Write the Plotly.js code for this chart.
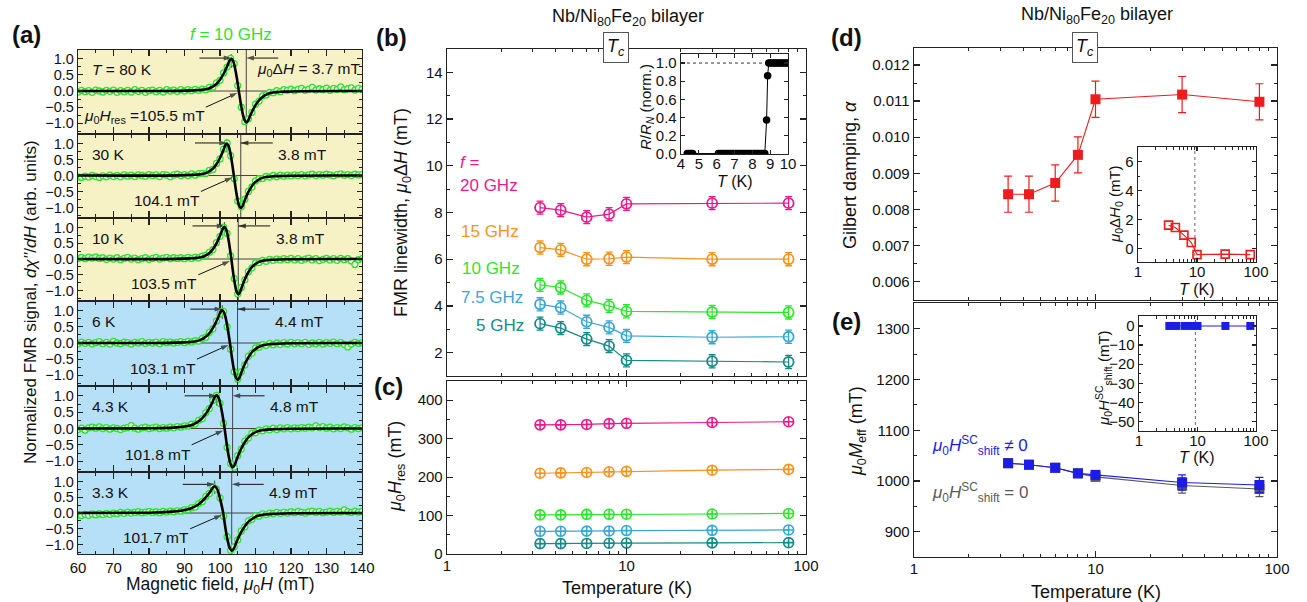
<!DOCTYPE html>
<html>
<head>
<meta charset="utf-8">
<script src="https://cdn.plot.ly/plotly-3.0.1.min.js"></script>
<style>
html,body{margin:0;padding:0;background:#ffffff;}
#chart{width:1307px;height:602px;}
</style>
</head>
<body>
<div id="chart"></div>
<script>
// ================= DATA =================
// (a) normalized FMR spectra, f = 10 GHz
const FIELD = [60,61,62,63,64,65,66,67,68,69,70,71,72,73,74,75,76,77,78,79,80,81,82,83,84,85,86,87,88,89,90,91,92,93,94,95,96,97,98,99,100,101,102,103,104,105,106,107,108,109,110,111,112,113,114,115,116,117,118,119,120,121,122,123,124,125,126,127,128,129,130,131,132,133,134,135,136,137,138,139,140];
const DATA_80K = [-0.03,0.02,-0.02,0.01,-0.04,0.03,0.00,-0.03,0.02,-0.01,0.03,-0.04,0.01,-0.02,0.02,-0.03,0.04,-0.01,0.02,-0.04,0.01,0.03,-0.02,0.02,-0.03,0.04,0.00,0.03,-0.01,0.04,0.00,0.04,0.01,0.05,0.02,0.06,0.04,0.11,0.12,0.25,0.33,0.56,0.74,1.01,0.85,0.17,-0.50,-0.95,-0.86,-0.66,-0.41,-0.31,-0.15,-0.12,-0.04,-0.05,0.01,-0.02,0.04,0.02,0.06,0.01,0.05,0.08,0.02,0.06,0.11,0.03,0.07,0.04,0.09,0.02,0.08,0.05,0.13,0.04,0.07,0.10,0.03,0.08,0.05];
const DATA_30K = [-0.04,-0.06,-0.02,-0.05,0.00,-0.03,-0.06,-0.01,-0.04,0.01,-0.03,0.00,-0.04,0.02,-0.02,0.01,-0.03,0.02,0.00,-0.02,0.03,0.00,0.02,-0.03,0.03,0.01,-0.04,0.02,0.04,0.00,0.03,0.00,0.05,0.01,0.06,0.07,0.06,0.16,0.19,0.38,0.52,0.83,1.02,0.62,-0.10,-0.80,-0.98,-0.74,-0.50,-0.36,-0.17,-0.10,-0.09,-0.03,-0.05,0.00,-0.04,0.01,-0.02,0.01,-0.01,0.02,0.00,0.03,-0.01,0.02,0.04,0.00,0.03,0.01,0.04,0.02,-0.01,0.03,0.05,0.01,0.03,0.00,0.04,0.02,0.03];
const DATA_10K = [0.02,0.05,0.01,0.06,0.03,0.07,0.02,0.04,-0.01,0.03,0.00,0.04,-0.02,0.02,0.05,0.00,0.03,-0.02,0.01,0.04,-0.01,0.02,0.05,0.00,0.03,0.05,0.01,0.04,0.02,0.04,0.01,0.05,0.02,0.06,0.04,0.09,0.12,0.21,0.30,0.52,0.72,1.01,0.81,0.10,-0.62,-1.11,-0.90,-0.66,-0.40,-0.28,-0.12,-0.11,-0.04,-0.07,-0.01,-0.04,0.00,-0.03,0.01,-0.02,0.02,-0.03,0.01,-0.04,0.00,0.03,-0.03,0.01,-0.05,-0.01,0.02,-0.03,0.01,-0.04,0.02,-0.02,0.01,-0.06,-0.17,-0.02,0.01];
const DATA_6K = [-0.02,0.03,-0.01,0.02,-0.03,0.01,0.04,-0.02,0.02,-0.03,0.05,0.00,-0.02,0.03,0.01,-0.03,0.02,0.00,0.04,-0.01,0.02,0.00,0.03,-0.02,0.04,0.01,0.03,0.00,0.02,0.04,0.01,0.05,0.03,0.07,0.06,0.14,0.18,0.33,0.44,0.68,0.90,0.98,0.50,-0.19,-0.89,-1.12,-0.89,-0.68,-0.41,-0.31,-0.15,-0.13,-0.05,-0.07,-0.01,-0.05,0.00,-0.04,0.01,-0.03,0.02,-0.02,0.01,-0.02,0.02,-0.04,0.00,-0.02,0.02,-0.03,0.01,-0.01,0.03,-0.02,0.01,-0.04,-0.12,-0.03,0.02,-0.01,0.01];
const DATA_4K3 = [-0.03,0.01,-0.05,0.02,0.04,0.01,0.05,0.00,0.03,-0.02,0.02,0.00,-0.03,0.01,0.03,0.09,0.01,-0.02,0.02,0.04,0.00,0.02,0.04,0.00,0.03,0.01,0.04,0.02,0.06,0.04,0.08,0.07,0.13,0.14,0.25,0.30,0.48,0.61,0.86,1.01,0.77,0.16,-0.58,-1.07,-1.18,-0.83,-0.63,-0.39,-0.29,-0.14,-0.13,-0.05,-0.07,-0.01,-0.04,0.01,-0.03,0.02,-0.01,0.03,-0.01,0.02,0.00,0.03,0.01,0.04,0.02,0.08,0.03,0.06,0.01,0.04,-0.01,0.03,0.00,0.05,0.02,-0.02,0.03,0.00,0.02];
const DATA_3K3 = [-0.06,-0.08,-0.04,-0.07,-0.03,-0.06,-0.02,-0.05,-0.01,-0.04,0.00,-0.02,0.02,-0.01,0.03,0.00,0.02,0.04,0.01,0.03,0.05,0.02,0.04,0.01,0.05,0.03,0.06,0.04,0.07,0.06,0.10,0.11,0.17,0.19,0.30,0.36,0.52,0.62,0.83,0.76,0.48,-0.10,-0.75,-1.18,-1.07,-0.85,-0.57,-0.44,-0.25,-0.20,-0.09,-0.10,-0.03,-0.05,0.00,-0.02,0.02,-0.01,0.03,0.00,0.04,0.01,0.05,0.02,0.00,0.04,0.06,0.02,0.05,0.01,0.03,0.06,0.02,0.05,0.03,0.10,0.04,0.02,0.06,0.03,0.05];

// fitted curves (black lines), sampled along each curve
const FIT_80K_H = [60,88.5,92.7,94.8,96.9,99.0,100.05,101.1,102.15,102.68,103.2,103.73,104.25,104.78,105.3,105.83,106.35,106.88,107.4,107.93,108.45,109.5,110.55,111.6,113.7,115.8,117.9,122.1,140];
const FIT_80K_Y = [0,0.005,0.02,0.035,0.08,0.22,0.36,0.55,0.80,0.94,1.0,0.92,0.70,0.38,0,-0.369,-0.679,-0.892,-0.97,-0.912,-0.776,-0.534,-0.349,-0.213,-0.078,-0.034,-0.019,-0.005,0];
const FIT_30K_H = [60,88.3,92.2,94.15,96.1,98.05,99.03,100.0,100.98,101.46,101.95,102.44,102.93,103.41,103.9,104.39,104.88,105.36,105.85,106.34,106.83,107.8,108.78,109.75,111.7,113.65,115.6,119.5,140];
const FIT_30K_Y = [0,0.005,0.02,0.035,0.08,0.22,0.36,0.55,0.80,0.94,1.0,0.92,0.70,0.38,0,-0.388,-0.714,-0.938,-1.02,-0.959,-0.816,-0.561,-0.367,-0.224,-0.082,-0.036,-0.02,-0.005,0];
const FIT_10K_H = [60,87.6,91.5,93.45,95.4,97.35,98.33,99.3,100.28,100.76,101.25,101.74,102.23,102.71,103.2,103.69,104.18,104.66,105.15,105.64,106.13,107.1,108.08,109.05,111.0,112.95,114.9,118.8,140];
const FIT_10K_Y = [0,0.005,0.02,0.036,0.082,0.224,0.367,0.561,0.816,0.959,1.02,0.938,0.714,0.388,0,-0.426,-0.784,-1.03,-1.12,-1.053,-0.896,-0.616,-0.403,-0.246,-0.09,-0.039,-0.022,-0.006,0];
const FIT_6K_H = [60,85.6,89.9,92.05,94.2,96.35,97.43,98.5,99.58,100.11,100.65,101.19,101.73,102.26,102.8,103.34,103.88,104.41,104.95,105.49,106.03,107.1,108.18,109.25,111.4,113.55,115.7,120.0,140];
const FIT_6K_Y = [0,0.005,0.02,0.036,0.082,0.224,0.367,0.561,0.816,0.959,1.02,0.938,0.714,0.388,0,-0.433,-0.798,-1.049,-1.14,-1.072,-0.912,-0.627,-0.41,-0.251,-0.091,-0.04,-0.023,-0.006,0];
const FIT_4K3_H = [60,78.8,83.3,87.8,90.05,92.3,94.55,95.68,96.8,97.93,98.49,99.05,99.61,100.18,100.74,101.3,101.86,102.43,102.99,103.55,104.11,104.68,105.8,106.93,108.05,110.3,112.55,114.8,119.3,140];
const FIT_4K3_Y = [0,0.005,0.012,0.036,0.061,0.117,0.265,0.403,0.587,0.816,0.959,1.02,0.938,0.714,0.388,0,-0.452,-0.833,-1.095,-1.19,-1.119,-0.952,-0.655,-0.428,-0.262,-0.095,-0.042,-0.024,-0.006,0];
const FIT_3K3_H = [60,76.9,81.7,86.5,88.9,91.3,93.7,94.9,96.1,97.3,97.9,98.5,99.1,99.7,100.3,100.9,101.5,102.1,102.7,103.3,103.9,104.5,105.7,106.9,108.1,110.5,112.9,115.3,120.1,140];
const FIT_3K3_Y = [0,0.0085,0.017,0.043,0.072,0.128,0.255,0.366,0.51,0.68,0.80,0.85,0.782,0.595,0.323,0,-0.456,-0.84,-1.104,-1.2,-1.128,-0.96,-0.66,-0.432,-0.264,-0.096,-0.042,-0.024,-0.006,0];

const SPEC_LABELS = ['<i>T</i> = 80 K','30 K','10 K','6 K','4.3 K','3.3 K'];
const HRES_MT = ['105.5','104.1','103.5','103.1','101.8','101.7'];
const DH_MT = ['3.7','3.8','3.8','4.4','4.8','4.9'];
const ZERO_H = [105.3,103.9,103.2,102.8,101.3,100.9];
const PEAK_H = [103.2,101.95,101.25,100.65,99.05,98.5];
const TROUGH_H = [107.4,105.85,105.15,104.95,103.55,103.3];

// (b) linewidth vs temperature, (c) resonance field
const TEMPS = [3.3,4.3,6,8,10,30,80];
const FREQ_LABELS = ['20 GHz','15 GHz','10 GHz','7.5 GHz','5 GHz'];
const LW_20 = [8.21,8.10,7.80,7.93,8.37,8.40,8.40];
const LW_15 = [6.50,6.40,6.00,6.02,6.09,6.00,6.00];
const LW_10 = [4.90,4.79,4.24,4.00,3.77,3.74,3.72];
const LW_75 = [4.07,3.93,3.32,3.08,2.72,2.66,2.68];
const LW_5  = [3.24,3.05,2.58,2.28,1.67,1.63,1.60];
const LW_ERR = [0.28,0.28,0.28,0.28,0.28,0.28,0.28];
const HRES_20 = [336,336,337,339,340,342,344];
const HRES_15 = [210,211,212,214,215,218,220];
const HRES_10 = [101.7,101.8,103.1,103.3,103.5,104.1,105.5];
const HRES_75 = [59,59,59.5,60,61,61.5,62.5];
const HRES_5  = [27,27,27.5,28,28.5,29,29.5];
// (b) inset: R/RN vs T
const RT_T = [4.35,4.45,4.55,4.65,6.1,6.2,6.3,6.4,6.5,6.6,6.7,6.8,6.9,7.0,7.1,7.2,7.3,7.4,7.5,7.6,7.7,7.8,7.9,8.0,8.1,8.2,8.3,8.4,8.5,8.6,8.7,8.8,8.86,8.92,9.0,9.1,9.2,9.3,9.4,9.5,9.6,9.7,9.8,9.9,10.0];
const RT_R = [0,0,0,0,0,0,0,0,0,0,0,0,0,0,0,0,0,0,0,0,0,0,0,0,0,0,0,0,0,0,0,0.37,0.86,1.0,1.0,1.0,1.0,1.0,1.0,1.0,1.0,1.0,1.0,1.0,1.0];
// (d) Gilbert damping, inset inhomogeneous broadening
const ALPHA = [0.00842,0.00842,0.00873,0.00951,0.01105,0.01118,0.01098];
const ALPHA_ERR = [0.0005,0.0005,0.0005,0.0005,0.0005,0.0005,0.0005];
const DH0 = [1.61,1.45,0.92,0.41,-0.42,-0.39,-0.42];
// (e) effective magnetization, inset shift field
const MEFF_SC = [1035,1032,1026,1015,1012,997,992];
const MEFF_0  = [1035,1032,1026,1015,1008,991,984];
const MEFF_ERR = [3,3,3,3,5,15,15];
const HSHIFT = [0,0,0,0,0,0,0];
const TC_MAIN = 8.8;
const TC_INSET = 9.2;

// ================= BUILD =================
const W = 1307, H = 602;
const FONT = 'Liberation Sans, Arial, Helvetica, sans-serif';
const X = p => p / W, Y = p => 1 - p / H;
const INK = '#222';
const C20 = '#ea1a8b', C15 = '#f7921e', C10 = '#2ee52e', C75 = '#3ba6d6', C5 = '#178a8a';
const GREEN = '#2fe22f';
const RED = '#ee1c1c', BLUE = '#1c1ce6', GREY = '#5a5a5a';
const LOG_MINOR = [2,3,4,5,6,7,8,9,20,30,40,50,60,70,80,90];

const traces = [], shapes = [], ann = [];
const layout = {
  width: W, height: H, margin: {l:0, r:0, t:0, b:0},
  paper_bgcolor: '#ffffff', plot_bgcolor: '#ffffff', showlegend: false,
  font: {family: FONT, size: 15, color: '#111'}
};

function axis(o) {
  return Object.assign({
    showline: true, linecolor: INK, linewidth: 1.3, mirror: 'allticks',
    ticks: 'inside', ticklen: 6, tickwidth: 1.2, tickcolor: INK,
    showgrid: false, zeroline: false, fixedrange: true,
    tickfont: {family: FONT, size: 15, color: '#111'}
  }, o);
}
function logAxis(o) {
  return axis(Object.assign({
    type: 'log', range: [0, 2], tickmode: 'array', tickvals: [1, 10, 100], ticktext: ['1', '10', '100'],
    minor: {tickmode: 'array', tickvals: LOG_MINOR, ticks: 'inside', ticklen: 3, tickwidth: 1, tickcolor: INK}
  }, o));
}
function txt(x, y, text, o) {
  o = o || {};
  const font = Object.assign({family: FONT, size: 17, color: '#111'}, o.font || {});
  const a = Object.assign({xref: 'paper', yref: 'paper', x: X(x), y: Y(y), text: text, showarrow: false,
    xanchor: 'center', yanchor: 'middle'}, o);
  a.font = font;
  return a;
}
// arrow drawn as a line with an arrow-shaped end marker
function arrowTrace(xa, ya, x0, y0, x1, y1) {
  return {x: [x0, x1], y: [y0, y1], xaxis: xa, yaxis: ya, mode: 'lines+markers', hoverinfo: 'skip',
    cliponaxis: false, line: {color: '#111', width: 1},
    marker: {symbol: 'arrow', size: [0, 8], angleref: 'previous', color: '#111', line: {width: 0}}};
}

// ---------- panel (a) ----------
const SPEC_DATA = [DATA_80K, DATA_30K, DATA_10K, DATA_6K, DATA_4K3, DATA_3K3];
const FIT_H = [FIT_80K_H, FIT_30K_H, FIT_10K_H, FIT_6K_H, FIT_4K3_H, FIT_3K3_H];
const FIT_Y = [FIT_80K_Y, FIT_30K_Y, FIT_10K_Y, FIT_6K_Y, FIT_4K3_Y, FIT_3K3_Y];
const PA = [[50,133],[135,217],[219,300],[302,385],[387,471],[473,554]];
const ARROW_Y = [1.02, 1.02, 1.05, 1.05, 1.0, 0.91];
const YEL = '#f7f1c6', BLU = '#b6e0f8';

for (let i = 0; i < 6; i++) {
  const s = i === 0 ? '' : String(i + 1);
  const xa = 'x' + s, ya = 'y' + s;
  layout['xaxis' + s] = axis({
    domain: [X(78), X(362)], range: [60, 140], anchor: ya, tick0: 60, dtick: 10,
    showticklabels: i === 5, tickfont: {family: FONT, size: 15, color: '#111'},
    minor: {dtick: 5, tick0: 60, ticks: 'inside', ticklen: 3, tickwidth: 1, tickcolor: INK}
  });
  layout['yaxis' + s] = axis({
    domain: [Y(PA[i][1]), Y(PA[i][0])], range: [-1.3, 1.27], anchor: xa,
    tickmode: 'array', tickvals: [-1, -0.5, 0, 0.5, 1], tickformat: '.1f',
    tickfont: {family: FONT, size: 14.5, color: '#111'}, ticklen: 5,
    minor: {dtick: 0.25, tick0: 0, ticks: 'inside', ticklen: 3, tickwidth: 1, tickcolor: INK}
  });
  shapes.push({type: 'rect', xref: xa + ' domain', yref: ya + ' domain', x0: 0, x1: 1, y0: 0, y1: 1,
    fillcolor: i < 3 ? YEL : BLU, line: {width: 0}, layer: 'below'});
  shapes.push({type: 'line', xref: xa, yref: ya, x0: 60, x1: 140, y0: 0, y1: 0,
    line: {color: '#444', width: 1}, layer: 'below'});
  shapes.push({type: 'line', xref: xa, yref: ya + ' domain', x0: TROUGH_H[i], x1: TROUGH_H[i], y0: 0, y1: 1,
    line: {color: '#444', width: 1}, layer: 'below'});
  shapes.push({type: 'line', xref: xa, yref: ya, x0: PEAK_H[i], x1: PEAK_H[i], y0: ARROW_Y[i] + 0.12, y1: ARROW_Y[i] - 0.3,
    line: {color: '#444', width: 1}, layer: 'below'});

  traces.push({x: FIELD, y: SPEC_DATA[i], xaxis: xa, yaxis: ya, mode: 'markers', hoverinfo: 'skip',
    marker: {symbol: 'circle', size: 6, color: 'rgba(255,255,255,0.75)', line: {color: GREEN, width: 1.3}}});
  traces.push({x: FIT_H[i], y: FIT_Y[i], xaxis: xa, yaxis: ya, mode: 'lines', hoverinfo: 'skip',
    line: {color: '#000', width: 2.6, shape: 'spline', smoothing: 1}});

  traces.push(arrowTrace(xa, ya, PEAK_H[i] - 9, ARROW_Y[i], PEAK_H[i], ARROW_Y[i]));
  traces.push(arrowTrace(xa, ya, TROUGH_H[i] + 9, ARROW_Y[i], TROUGH_H[i], ARROW_Y[i]));
  traces.push(arrowTrace(xa, ya, ZERO_H[i] - 9.3, -0.5, ZERO_H[i] - 0.4, -0.06));

  const f15 = {family: FONT, size: 15.5, color: '#111'};
  ann.push({xref: xa, yref: ya, x: 63.3, y: 0.66, text: SPEC_LABELS[i], showarrow: false,
    xanchor: 'left', yanchor: 'middle', font: f15});
  ann.push({xref: xa, yref: ya, x: i === 0 ? TROUGH_H[i] + 2.5 : TROUGH_H[i] + 10, y: 0.66,
    text: (i === 0 ? '<i>μ</i><sub>0</sub>Δ<i>H</i> = ' : '') + DH_MT[i] + ' mT', showarrow: false,
    xanchor: 'left', yanchor: 'middle', font: f15});
  ann.push({xref: xa, yref: ya, x: ZERO_H[i] - 9, y: -0.78,
    text: (i === 0 ? '<i>μ</i><sub>0</sub><i>H</i><sub>res</sub> =' : '') + HRES_MT[i] + ' mT', showarrow: false,
    xanchor: 'right', yanchor: 'middle', font: f15});
}
ann.push(txt(26, 35, '<b>(a)</b>', {font: {size: 24}}));
ann.push(txt(231, 35, '<i>f</i> = 10 GHz', {font: {size: 17, color: GREEN}}));
ann.push(txt(30, 302, "Normalized FMR signal, <i>dχ''</i>/<i>dH</i> (arb. units)", {textangle: -90, font: {size: 17}}));
ann.push(txt(220, 585, 'Magnetic field, <i>μ</i><sub>0</sub><i>H</i> (mT)', {font: {size: 17.5}}));

// ---------- panel (b) ----------
layout.xaxis7 = logAxis({domain: [X(447), X(806)], anchor: 'y7', showticklabels: false});
layout.yaxis7 = axis({domain: [Y(376), Y(49)], range: [1, 15], anchor: 'x7', dtick: 2, tick0: 0,
  minor: {dtick: 1, ticks: 'inside', ticklen: 3, tickwidth: 1, tickcolor: INK}});
const LW = [LW_20, LW_15, LW_10, LW_75, LW_5];
const HR = [HRES_20, HRES_15, HRES_10, HRES_75, HRES_5];
const FC = [C20, C15, C10, C75, C5];
for (let k = 0; k < 5; k++) {
  traces.push({x: TEMPS, y: LW[k], xaxis: 'x7', yaxis: 'y7', mode: 'lines+markers', hoverinfo: 'skip',
    line: {color: FC[k], width: 1.2},
    marker: {symbol: 'circle-open', size: 10, color: FC[k], line: {width: 1.8}},
    error_y: {type: 'data', array: LW_ERR, visible: true, color: FC[k], thickness: 1.3, width: 3.5}});
  traces.push({x: TEMPS, y: HR[k], xaxis: 'x9', yaxis: 'y9', mode: 'lines+markers', hoverinfo: 'skip',
    line: {color: FC[k], width: 1.2},
    marker: {symbol: 'circle-cross-open', size: 10, color: FC[k], line: {width: 1.6}}});
}
ann.push(txt(391, 38, '<b>(b)</b>', {font: {size: 24}}));
ann.push(txt(628, 17, 'Nb/Ni<sub>80</sub>Fe<sub>20</sub> bilayer', {font: {size: 18}}));
ann.push(txt(403, 213, 'FMR linewidth, <i>μ</i><sub>0</sub>Δ<i>H</i> (mT)', {textangle: -90, font: {size: 18}}));
ann.push(txt(458, 163, '<i>f</i> =', {xanchor: 'left', font: {size: 17, color: C20}}));
ann.push(txt(458, 185, FREQ_LABELS[0], {xanchor: 'left', font: {size: 17, color: C20}}));
ann.push(txt(459, 231, FREQ_LABELS[1], {xanchor: 'left', font: {size: 17, color: C15}}));
ann.push(txt(460, 268, FREQ_LABELS[2], {xanchor: 'left', font: {size: 17, color: C10}}));
ann.push(txt(459, 297, FREQ_LABELS[3], {xanchor: 'left', font: {size: 17, color: C75}}));
ann.push(txt(474, 325, FREQ_LABELS[4], {xanchor: 'left', font: {size: 17, color: C5}}));

// (b) inset
layout.xaxis8 = axis({domain: [X(681), X(788)], range: [4, 10], anchor: 'y8', dtick: 1, tick0: 4,
  ticklen: 4, ticklabelstandoff: -4, tickfont: {family: FONT, size: 15, color: '#111'}});
layout.yaxis8 = axis({domain: [Y(154), Y(54)], range: [-0.005, 1.1], anchor: 'x8', dtick: 0.2, tick0: 0,
  tickformat: '.1f', ticklen: 4, tickfont: {family: FONT, size: 15, color: '#111'}});
traces.push({x: [4, 9], y: [1, 1], xaxis: 'x8', yaxis: 'y8', mode: 'lines', hoverinfo: 'skip',
  line: {color: '#333', width: 1, dash: 'dot'}});
traces.push({x: RT_T, y: RT_R, xaxis: 'x8', yaxis: 'y8', mode: 'lines+markers', hoverinfo: 'skip',
  line: {color: '#000', width: 1}, marker: {symbol: 'circle', size: 7.5, color: '#000'}});
ann.push(txt(646, 107, '<i>R</i>/<i>R<sub>N</sub></i> (norm.)', {textangle: -90, font: {size: 15}}));
ann.push(txt(735, 181, '<i>T</i> (K)', {font: {size: 16}}));

// ---------- panel (c) ----------
layout.xaxis9 = logAxis({domain: [X(447), X(806)], anchor: 'y9', ticklabelstandoff: -2});
layout.yaxis9 = axis({domain: [Y(554), Y(381)], range: [0, 450], anchor: 'x9', dtick: 100, tick0: 0,
  minor: {dtick: 50, ticks: 'inside', ticklen: 3, tickwidth: 1, tickcolor: INK}});
ann.push(txt(388, 386, '<b>(c)</b>', {font: {size: 24}}));
ann.push(txt(396, 467, '<i>μ</i><sub>0</sub><i>H</i><sub>res</sub> (mT)', {textangle: -90, font: {size: 18}}));
ann.push(txt(627, 588, 'Temperature (K)', {font: {size: 18}}));

// Tc marker for (b)/(c)
shapes.push({type: 'line', xref: 'x7', yref: 'paper', x0: Math.log10(TC_MAIN), x1: Math.log10(TC_MAIN),
  y0: Y(554), y1: Y(62), line: {color: '#666', width: 1.8, dash: 'dot'}});
ann.push(txt(616, 48, '<i>T<sub>c</sub></i>', {bgcolor: '#fff', bordercolor: '#555', borderwidth: 1, borderpad: 3, font: {size: 18}}));

// ---------- panel (d) ----------
layout.xaxis10 = logAxis({domain: [X(914), X(1277)], anchor: 'y10', showticklabels: false});
layout.yaxis10 = axis({domain: [Y(300), Y(48)], range: [0.00549, 0.01247], anchor: 'x10', dtick: 0.001, tick0: 0,
  tickformat: '.3f', minor: {dtick: 0.0005, ticks: 'inside', ticklen: 3, tickwidth: 1, tickcolor: INK}});
traces.push({x: TEMPS, y: ALPHA, xaxis: 'x10', yaxis: 'y10', mode: 'lines+markers', hoverinfo: 'skip',
  line: {color: RED, width: 1.1},
  marker: {symbol: 'square', size: 10, color: RED},
  error_y: {type: 'data', array: ALPHA_ERR, visible: true, color: RED, thickness: 1.2, width: 4}});
ann.push(txt(846, 37, '<b>(d)</b>', {font: {size: 24}}));
ann.push(txt(1097, 16, 'Nb/Ni<sub>80</sub>Fe<sub>20</sub> bilayer', {font: {size: 18}}));
ann.push(txt(850, 175, 'Gilbert damping, <i>α</i>', {textangle: -90, font: {size: 18}}));

// (d) inset
layout.xaxis11 = logAxis({domain: [X(1138), X(1256)], anchor: 'y11', ticklen: 4, ticklabelstandoff: -4,
  tickfont: {family: FONT, size: 15, color: '#111'}});
layout.yaxis11 = axis({domain: [Y(262), Y(147)], range: [-0.93, 7], anchor: 'x11', dtick: 2, tick0: 0, ticklen: 4,
  tickfont: {family: FONT, size: 15, color: '#111'},
  minor: {dtick: 1, ticks: 'inside', ticklen: 2, tickwidth: 1, tickcolor: INK}});
traces.push({x: [TC_INSET, TC_INSET], y: [-0.93, 7], xaxis: 'x11', yaxis: 'y11', mode: 'lines', hoverinfo: 'skip',
  line: {color: '#666', width: 1, dash: 'dot'}});
traces.push({x: TEMPS, y: DH0, xaxis: 'x11', yaxis: 'y11', mode: 'lines+markers', hoverinfo: 'skip',
  line: {color: RED, width: 1.1}, marker: {symbol: 'square-open', size: 8, color: RED, line: {width: 1.6}}});
ann.push(txt(1115, 204, '<i>μ</i><sub>0</sub>Δ<i>H</i><sub>0</sub> (mT)', {textangle: -90, font: {size: 15}}));
ann.push(txt(1197, 289, '<i>T</i> (K)', {font: {size: 16}}));

// ---------- panel (e) ----------
layout.xaxis12 = logAxis({domain: [X(914), X(1277)], anchor: 'y12', ticklabelstandoff: -2});
layout.yaxis12 = axis({domain: [Y(557), Y(303)], range: [850, 1351], anchor: 'x12', dtick: 100, tick0: 0,
  minor: {dtick: 50, ticks: 'inside', ticklen: 3, tickwidth: 1, tickcolor: INK}});
traces.push({x: TEMPS, y: MEFF_0, xaxis: 'x12', yaxis: 'y12', mode: 'lines+markers', hoverinfo: 'skip',
  line: {color: GREY, width: 1.1}, marker: {symbol: 'square', size: 10, color: GREY},
  error_y: {type: 'data', array: MEFF_ERR, visible: true, color: GREY, thickness: 1.2, width: 4}});
traces.push({x: TEMPS, y: MEFF_SC, xaxis: 'x12', yaxis: 'y12', mode: 'lines+markers', hoverinfo: 'skip',
  line: {color: BLUE, width: 1.1}, marker: {symbol: 'square', size: 10, color: BLUE},
  error_y: {type: 'data', array: MEFF_ERR, visible: true, color: BLUE, thickness: 1.2, width: 4}});
ann.push(txt(846, 322, '<b>(e)</b>', {font: {size: 24}}));
ann.push(txt(857, 431, '<i>μ</i><sub>0</sub><i>M</i><sub>eff</sub> (mT)', {textangle: -90, font: {size: 18}}));
ann.push(txt(1096, 592, 'Temperature (K)', {font: {size: 18}}));
ann.push(txt(930, 445, '<i>μ</i><sub>0</sub><i>H</i><sup>SC</sup><sub>shift</sub> ≠ 0', {xanchor: 'left', font: {size: 17, color: BLUE}}));
ann.push(txt(930, 492, '<i>μ</i><sub>0</sub><i>H</i><sup>SC</sup><sub>shift</sub> = 0', {xanchor: 'left', font: {size: 17, color: GREY}}));

// (e) inset
layout.xaxis13 = logAxis({domain: [X(1139), X(1256)], anchor: 'y13', ticklen: 4, ticklabelstandoff: -4,
  tickfont: {family: FONT, size: 15, color: '#111'}});
layout.yaxis13 = axis({domain: [Y(431), Y(316)], range: [-54.9, 5.2], anchor: 'x13', dtick: 10, tick0: 0, ticklen: 4,
  tickfont: {family: FONT, size: 15, color: '#111'},
  minor: {dtick: 5, ticks: 'inside', ticklen: 2, tickwidth: 1, tickcolor: INK}});
traces.push({x: [TC_INSET, TC_INSET], y: [-54.9, 5.2], xaxis: 'x13', yaxis: 'y13', mode: 'lines', hoverinfo: 'skip',
  line: {color: '#666', width: 1, dash: 'dot'}});
traces.push({x: TEMPS, y: HSHIFT, xaxis: 'x13', yaxis: 'y13', mode: 'lines+markers', hoverinfo: 'skip',
  line: {color: BLUE, width: 1.1}, marker: {symbol: 'square', size: 8, color: BLUE}});
ann.push(txt(1103, 378, '<i>μ</i><sub>0</sub><i>H</i><sup>SC</sup><sub>shift</sub> (mT)', {textangle: -90, font: {size: 15}}));
ann.push(txt(1197, 457, '<i>T</i> (K)', {font: {size: 16}}));

// Tc marker for (d)/(e)
shapes.push({type: 'line', xref: 'x10', yref: 'paper', x0: Math.log10(TC_MAIN), x1: Math.log10(TC_MAIN),
  y0: Y(557), y1: Y(61), line: {color: '#111', width: 1.2, dash: 'dot'}});
ann.push(txt(1085, 47, '<i>T<sub>c</sub></i>', {bgcolor: '#fff', bordercolor: '#555', borderwidth: 1, borderpad: 3, font: {size: 18}}));

layout.shapes = shapes;
layout.annotations = ann;
Plotly.newPlot('chart', traces, layout, {displayModeBar: false, staticPlot: true});
</script>
</body>
</html>
